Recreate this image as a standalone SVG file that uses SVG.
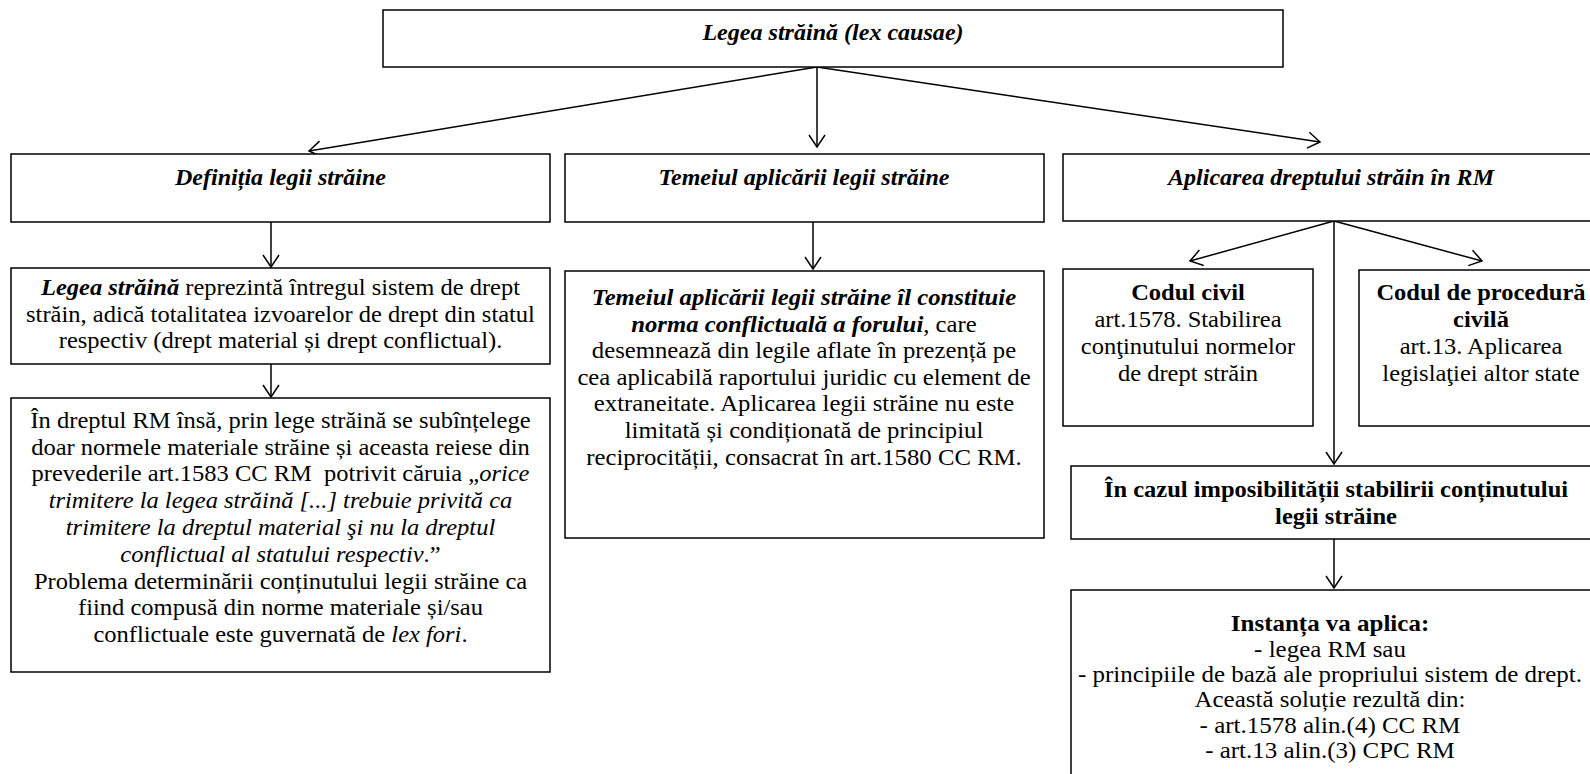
<svg xmlns="http://www.w3.org/2000/svg" width="1590" height="774" viewBox="0 0 1590 774">
<defs>
<marker id="ah" markerUnits="userSpaceOnUse" viewBox="0 0 14 18" refX="13" refY="9" markerWidth="14" markerHeight="18" orient="auto">
<path d="M1,1 L13,9 L1,17" fill="none" stroke="#000" stroke-width="1.5"/>
</marker>
</defs>
<style>
rect{fill:#fff;stroke:#000;stroke-width:1.5}
text{font-family:"Liberation Serif","Times New Roman",serif;font-size:22.7px;text-anchor:middle;fill:#000}
.bi{font-weight:bold;font-style:italic}
.b{font-weight:bold}
.i{font-style:italic}
.c line{stroke:#000;stroke-width:1.5;marker-end:url(#ah)}
</style>
<rect x="0" y="0" width="1590" height="774" style="fill:#fff;stroke:none"/>
<g id="connectors" class="c">
<line x1="817" y1="67" x2="309" y2="151"/>
<line x1="817" y1="67" x2="817" y2="147"/>
<line x1="817" y1="67" x2="1320" y2="142"/>
<line x1="271" y1="222" x2="271" y2="267"/>
<line x1="271" y1="364" x2="271" y2="397"/>
<line x1="813" y1="222" x2="813" y2="269"/>
<line x1="1334" y1="221" x2="1190" y2="261"/>
<line x1="1334" y1="221" x2="1482" y2="261"/>
<line x1="1334" y1="221" x2="1334" y2="464"/>
<line x1="1334" y1="539" x2="1334" y2="588"/>
</g>
<g id="root">
<rect x="383" y="10" width="900" height="57"/>
<g transform="translate(833,0) scale(1.06,1)"><text x="0" y="40" class="bi">Legea străină (lex causae)</text></g>
</g>
<g id="def">
<rect x="11" y="154" width="539" height="68"/>
<g transform="translate(280.5,0) scale(1.06,1)"><text x="0" y="185" class="bi">Definiția legii străine</text></g>
</g>
<g id="temei">
<rect x="565" y="154" width="479" height="68"/>
<g transform="translate(804,0) scale(1.06,1)"><text x="0" y="185" class="bi">Temeiul aplicării legii străine</text></g>
</g>
<g id="aplic">
<rect x="1063" y="154" width="540" height="67"/>
<g transform="translate(1331,0) scale(1.06,1)"><text x="0" y="185" class="bi">Aplicarea dreptului străin în RM</text></g>
</g>
<g id="def-text">
<rect x="11" y="268" width="539" height="96"/>
<g transform="translate(280.5,0) scale(1.08,1)">
<text x="0" y="295"><tspan class="bi">Legea străină</tspan> reprezintă întregul sistem de drept</text>
<text x="0" y="322">străin, adică totalitatea izvoarelor de drept din statul</text>
<text x="0" y="348">respectiv (drept material și drept conflictual).</text>
</g>
</g>
<g id="rm-text">
<rect x="11" y="398" width="539" height="274"/>
<g transform="translate(280.5,0) scale(1.08,1)">
<text x="0" y="428">În dreptul RM însă, prin lege străină se subînțelege</text>
<text x="0" y="455">doar normele materiale străine și aceasta reiese din</text>
<text x="0" y="481" xml:space="preserve">prevederile art.1583 CC RM  potrivit căruia „<tspan class="i">orice</tspan></text>
<text x="0" y="508" class="i">trimitere la legea străină [...] trebuie privită ca</text>
<text x="0" y="535" class="i">trimitere la dreptul material şi nu la dreptul</text>
<text x="0" y="562"><tspan class="i">conflictual al statului respectiv</tspan>.”</text>
<text x="0" y="589">Problema determinării conținutului legii străine ca</text>
<text x="0" y="615">fiind compusă din norme materiale și/sau</text>
<text x="0" y="642">conflictuale este guvernată de <tspan class="i">lex fori</tspan>.</text>
</g>
</g>
<g id="temei-text">
<rect x="565" y="271" width="479" height="267"/>
<g transform="translate(804,0) scale(1.09,1)">
<text x="0" y="305" class="bi">Temeiul aplicării legii străine îl constituie</text>
<text x="0" y="332"><tspan class="bi">norma conflictuală a forului</tspan>, care</text>
<text x="0" y="358">desemnează din legile aflate în prezență pe</text>
<text x="0" y="385">cea aplicabilă raportului juridic cu element de</text>
<text x="0" y="411">extraneitate. Aplicarea legii străine nu este</text>
<text x="0" y="438">limitată și condiționată de principiul</text>
<text x="0" y="465">reciprocității, consacrat în art.1580 CC RM.</text>
</g>
</g>
<g id="cc">
<rect x="1063" y="269" width="250" height="157"/>
<g transform="translate(1188,0) scale(1.08,1)">
<text x="0" y="300" class="b">Codul civil</text>
<text x="0" y="327">art.1578. Stabilirea</text>
<text x="0" y="354">conţinutului normelor</text>
<text x="0" y="381">de drept străin</text>
</g>
</g>
<g id="cpc">
<rect x="1359" y="270" width="245" height="156"/>
<g transform="translate(1481,0) scale(1.08,1)">
<text x="0" y="300" class="b">Codul de procedură</text>
<text x="0" y="327" class="b">civilă</text>
<text x="0" y="354">art.13. Aplicarea</text>
<text x="0" y="381">legislaţiei altor state</text>
</g>
</g>
<g id="imposibil">
<rect x="1071" y="466" width="540" height="73"/>
<g transform="translate(1336,0) scale(1.08,1)">
<text x="0" y="497" class="b">În cazul imposibilității stabilirii conținutului</text>
<text x="0" y="524" class="b">legii străine</text>
</g>
</g>
<g id="instanta">
<rect x="1071" y="590" width="540" height="200"/>
<g transform="translate(1330,0) scale(1.1,1)">
<text x="0" y="631" class="b">Instanța va aplica:</text>
<text x="0" y="657">- legea RM sau</text>
<text x="0" y="682">- principiile de bază ale propriului sistem de drept.</text>
<text x="0" y="707">Această soluție rezultă din:</text>
<text x="0" y="733">- art.1578 alin.(4) CC RM</text>
<text x="0" y="758">- art.13 alin.(3) CPC RM</text>
</g>
</g>
</svg>
